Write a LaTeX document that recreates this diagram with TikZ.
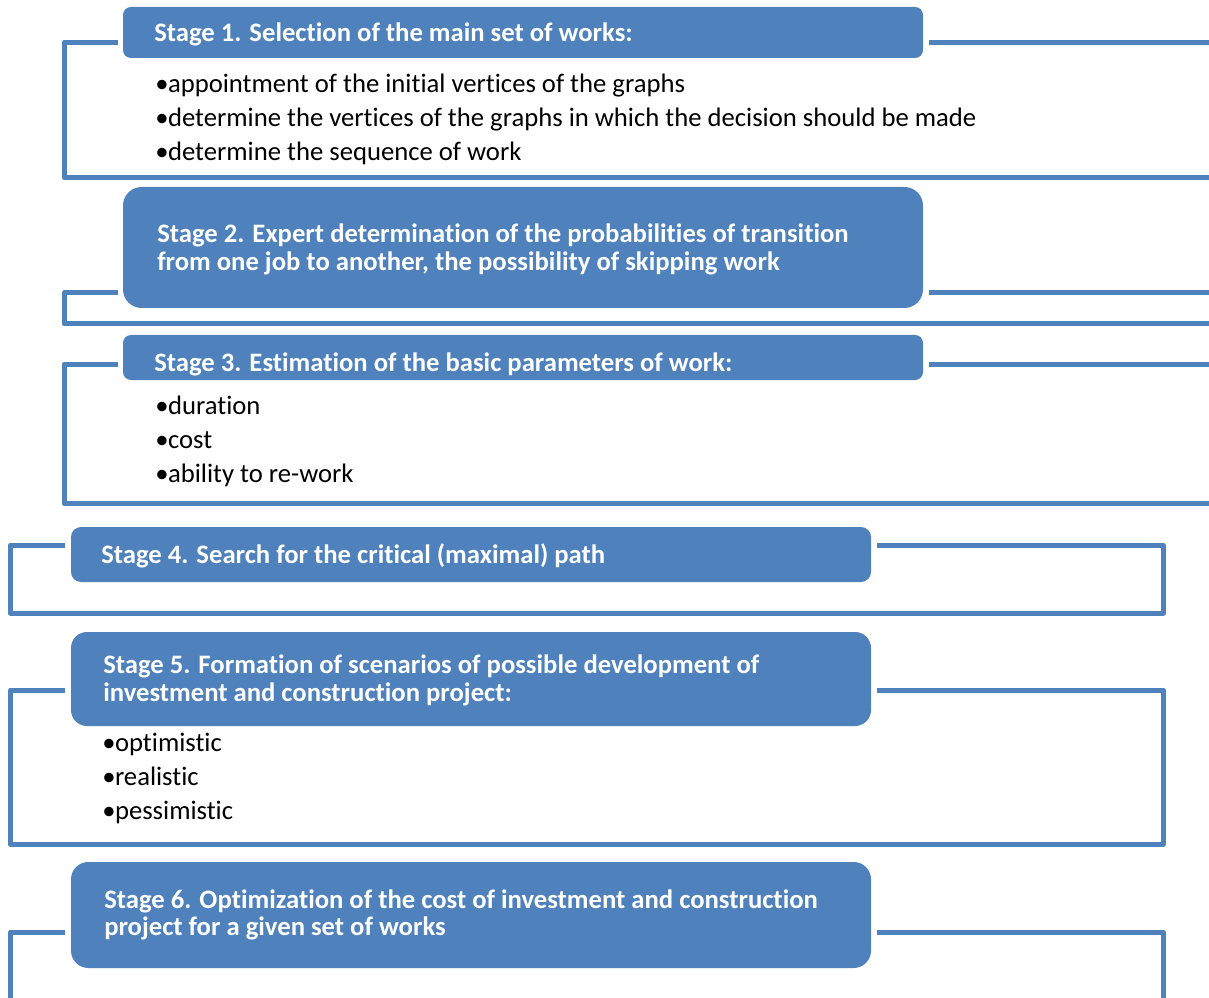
\documentclass[tikz,border=0pt]{standalone}
\usepackage{fontspec}
\setmainfont{Carlito}[Ligatures=NoCommon]
\definecolor{stageblue}{HTML}{4F81BD}
\newcommand{\bul}{•\kern-0.4pt}
\begin{document}
\begin{tikzpicture}[x=0.75pt,y=-0.75pt,
  frame/.style={draw=stageblue,line width=3.75pt,line join=round},
  hdr/.style={fill=stageblue,draw=none,inner sep=0pt,minimum width=600pt},
  hdrtext/.style={anchor=base west,inner sep=0pt,text=white,font=\fontsize{20}{24}\selectfont\bfseries},
  item/.style={anchor=base west,inner sep=0pt,text=black,font=\fontsize{20}{24}\selectfont}]
\useasboundingbox (0,0) rectangle (1209,998);
\clip (0,0) rectangle (1209,998);
\fill[white] (0,0) rectangle (1209,998);

% Stage 1
\draw[frame] (118,42.5) -- (64,42.5) -- (64,177.5) -- (1240,177.5);
\draw[frame] (929,42.5) -- (1240,42.5);
\node[hdr,minimum height=38.25pt,rounded corners=6pt] (h1) at (523,32.5) {};
\node[hdrtext] (h1t) at (154,41.5) {Stage 1. Selection of the main set of works:};
\node[item] (b11) at (155,92.5) {\bul appointment of the initial vertices of the graphs};
\node[item] (b12) at (155,126.5) {\bul determine the vertices of the graphs in which the decision should be made};
\node[item] (b13) at (155,161) {\bul determine the sequence of work};

% Stage 2
\draw[frame] (118,293) -- (64,293) -- (64,324) -- (1240,324);
\draw[frame] (929,293) -- (1240,293);
\node[hdr,minimum height=90.75pt,rounded corners=14pt] (h2) at (523,247.5) {};
\node[hdrtext] (h2t1) at (157,242.5) {Stage 2. Expert determination of the probabilities of transition};
\node[hdrtext] (h2t2) at (157,270.5) {from one job to another, the possibility of skipping work};

% Stage 3
\draw[frame] (118,364) -- (64,364) -- (64,503.5) -- (1240,503.5);
\draw[frame] (929,364) -- (1240,364);
\node[hdr,minimum height=33.75pt,rounded corners=6pt] (h3) at (523,357.5) {};
\node[hdrtext] (h3t) at (154,371.5) {Stage 3. Estimation of the basic parameters of work:};
\node[item] (b31) at (155,414.5) {\bul duration};
\node[item] (b32) at (155,448.5) {\bul cost};
\node[item] (b33) at (155,482.5) {\bul ability to re-work};

% Stage 4
\draw[frame] (65,545) -- (10.5,545) -- (10.5,613) -- (1163,613) -- (1163,545) -- (877,545);
\node[hdr,minimum height=41.25pt,rounded corners=7.5pt] (h4) at (471,554.5) {};
\node[hdrtext] (h4t) at (101,563.5) {Stage 4. Search for the critical (maximal) path};

% Stage 5
\draw[frame] (65,690) -- (10.5,690) -- (10.5,844) -- (1163,844) -- (1163,690) -- (877,690);
\node[hdr,minimum height=70.5pt,rounded corners=12pt] (h5) at (471,679) {};
\node[hdrtext] (h5t1) at (103,673.5) {Stage 5. Formation of scenarios of possible development of};
\node[hdrtext] (h5t2) at (103,701.5) {investment and construction project:};
\node[item] (b51) at (102,751.5) {\bul optimistic};
\node[item] (b52) at (102,785.5) {\bul realistic};
\node[item] (b53) at (102,819.5) {\bul pessimistic};

% Stage 6
\draw[frame] (65,932) -- (10.5,932) -- (10.5,1000) -- (1163,1000) -- (1163,932) -- (877,932);
\node[hdr,minimum height=79.5pt,rounded corners=13pt] (h6) at (471,915) {};
\node[hdrtext] (h6t1) at (104,908.5) {Stage 6. Optimization of the cost of investment and construction};
\node[hdrtext] (h6t2) at (104,935.5) {project for a given set of works};
\end{tikzpicture}
\end{document}
